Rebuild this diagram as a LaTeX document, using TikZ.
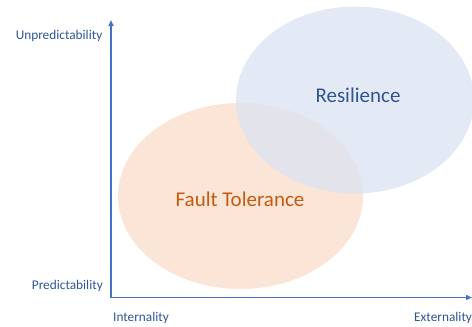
\documentclass[tikz,border=0pt]{standalone}
\usepackage{fontspec}
\setmainfont{Carlito}
\usetikzlibrary{arrows.meta,shapes.geometric}
\definecolor{axisblue}{HTML}{4472C4}
\definecolor{labelblue}{HTML}{2F5597}
\definecolor{resblue}{HTML}{2F5597}
\definecolor{ftorange}{HTML}{C55A11}
\definecolor{orangefill}{HTML}{FBE5D6}
\definecolor{bluefill}{HTML}{DAE3F3}
\tikzset{
  axislabel/.style={text=labelblue, font=\fontsize{13.3}{15}\selectfont, inner sep=0pt},
  biglabel/.style={font=\fontsize{21}{24}\selectfont, inner sep=0pt},
  axisline/.style={draw=axisblue, line width=1.6pt, -{Triangle[length=6pt,width=5pt]}},
  blob/.style={ellipse, draw=none, inner sep=0pt}
}
\begin{document}
\begin{tikzpicture}[x=1pt,y=-1pt]
\useasboundingbox (0,0) rectangle (472,327);
% ellipses
\node[blob, fill=orangefill, minimum width=245pt, minimum height=186pt] (ft) at (240.5,196) {};
\node[blob, fill=bluefill, fill opacity=0.75, minimum width=238pt, minimum height=187pt] (res) at (355,100) {};
% labels inside
\node[biglabel, text=ftorange] (ftl) at (240,199.5) {Fault Tolerance};
\node[biglabel, text=resblue] (resl) at (358,95.5) {Resilience};
% axes
\coordinate (o) at (111,297.5);
\coordinate (ytip) at (111,20);
\coordinate (xtip) at (472,297.5);
\draw[axisline] (o) -- (ytip);
\draw[axisline] (o) -- (xtip);
% axis labels
\node[axislabel, anchor=east] (unp) at (102.5,35.5) {Unpredictability};
\node[axislabel, anchor=east] (pred) at (103,285.5) {Predictability};
\node[axislabel, anchor=west] (int) at (113,317.5) {Internality};
\node[axislabel, anchor=west] (ext) at (414,317.5) {Externality};
\end{tikzpicture}
\end{document}
